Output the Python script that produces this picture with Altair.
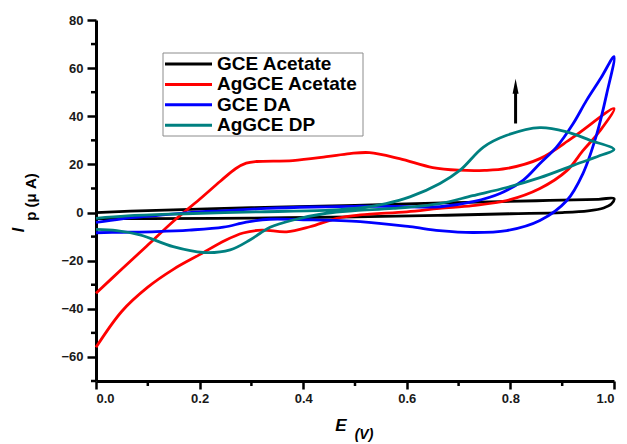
import altair as alt
import pandas as pd

names = ["GCE Acetate", "AgGCE Acetate", "GCE DA", "AgGCE DP"]
colors = ["#000000", "#ff0000", "#0000ff", "#008080"]

# GCE Acetate (black)
gce_ac_E = [0.0, 0.1, 0.3, 0.5, 0.67, 0.85, 0.97, 1.0, 0.995, 0.98, 0.95, 0.9, 0.8, 0.66, 0.5, 0.3, 0.1, 0.0]
gce_ac_I = [0.0, 0.8, 2.0, 3.0, 4.0, 4.9, 5.5, 5.8, 3.6, 1.9, 0.7, 0.0, -0.5, -1.2, -1.8, -2.3, -2.5, -2.5]

# AgGCE Acetate (red)
ag_ac_E = [0.0, 0.05, 0.1, 0.15, 0.2, 0.24, 0.27, 0.29, 0.31, 0.38, 0.445, 0.49, 0.528, 0.586, 0.65, 0.70,
           0.75, 0.793, 0.857, 0.92, 1.0,
           0.973, 0.94, 0.909, 0.857, 0.793, 0.727, 0.663, 0.60, 0.51, 0.465, 0.413, 0.368, 0.32, 0.284,
           0.25, 0.2, 0.15, 0.1, 0.05, 0.0]
ag_ac_I = [-33.5, -23.5, -13.5, -3.5, 5.5, 13.0, 18.3, 20.5, 21.2, 21.6, 23.2, 24.5, 24.9, 22.4, 18.7, 17.6,
           17.5, 18.3, 22.4, 31.1, 43.2,
           34.0, 25.7, 17.4, 10.0, 5.0, 2.9, 1.7, 0.3, -1.0, -2.4, -5.9, -8.0, -7.3, -8.5,
           -11.5, -17.5, -23.5, -31.0, -41.0, -56.0]

# GCE DA (blue)
gce_da_E = [0.0, 0.05, 0.12, 0.18, 0.25, 0.33, 0.42, 0.5, 0.58, 0.664, 0.728, 0.78, 0.825, 0.857, 0.889,
            0.921, 0.947, 0.975, 1.0,
            0.986, 0.967, 0.94, 0.909, 0.857, 0.793, 0.727, 0.663, 0.606, 0.51, 0.40, 0.336, 0.29, 0.246,
            0.18, 0.117, 0.05, 0.0]
gce_da_I = [-4.1, -2.6, -1.2, 0.0, 0.8, 1.7, 2.3, 2.6, 2.5, 2.4, 4.5, 7.9, 13.5, 20.4, 27.2,
            36.9, 46.6, 56.0, 64.8,
            49.4, 32.8, 16.2, 5.0, -3.3, -7.5, -8.3, -7.5, -5.9, -3.8, -3.0, -2.8, -4.0, -6.1,
            -7.3, -7.9, -8.2, -8.4]

# AgGCE DP (teal)
ag_dp_E = [0.0, 0.06, 0.157, 0.317, 0.45, 0.51, 0.56, 0.606, 0.664, 0.703, 0.748, 0.793, 0.857, 0.909,
           0.954, 1.0,
           0.973, 0.92, 0.857, 0.793, 0.727, 0.663, 0.574, 0.50, 0.445, 0.381, 0.336, 0.317, 0.297,
           0.259, 0.207, 0.149, 0.085, 0.04, 0.0]
ag_dp_I = [-2.4, -1.4, -0.6, 0.3, 1.0, 1.9, 3.7, 6.5, 12.1, 17.6, 27.2, 32.1, 35.3, 33.5,
           30.0, 26.2,
           23.7, 19.5, 14.5, 10.4, 7.0, 3.7, 1.7, 0.8, -0.3, -3.1, -6.1, -8.6, -11.4,
           -15.5, -16.6, -14.2, -9.3, -7.5, -7.0]

arrow_E = [0.81]
arrow_I = [37.0, 50.0, 52.5]  # tail, head base, head centre

x_major = [0.0, 0.2, 0.4, 0.6, 0.8, 1.0]
x_minor = [0.1, 0.3, 0.5, 0.7, 0.9]
y_major = [-60, -40, -20, 0, 20, 40, 60, 80]
y_minor = [-70, -50, -30, -10, 10, 30, 50, 70]

series_E = [gce_ac_E, ag_ac_E, gce_da_E, ag_dp_E]
series_I = [gce_ac_I, ag_ac_I, gce_da_I, ag_dp_I]
rows = []
for name, es, is_ in zip(names, series_E, series_I):
    for k, (e, i) in enumerate(zip(es, is_)):
        rows.append({"series": name, "E": e, "I": i, "idx": k})
df = pd.DataFrame(rows)

FONT = "Liberation Sans"

x_axis = alt.Axis(title=None, values=x_major, format=".1f", tickSize=8, labelPadding=3)
y_axis = alt.Axis(title=None, values=y_major, format="d", tickSize=9, labelPadding=4)

xs = alt.Scale(domain=[0, 1], nice=False)
ys = alt.Scale(domain=[-70, 80], nice=False)

lines = alt.Chart(df).mark_line(strokeWidth=2.8, interpolate="catmull-rom").encode(
    x=alt.X("E:Q", scale=xs, axis=x_axis),
    y=alt.Y("I:Q", scale=ys, axis=y_axis),
    color=alt.Color("series:N", scale=alt.Scale(domain=names, range=colors), legend=None),
    order="idx:Q",
)

minor_y = alt.Chart(pd.DataFrame({"v": y_minor})).mark_rule(color="black", strokeWidth=2.5).encode(
    y=alt.Y("v:Q", scale=ys, axis=y_axis), x=alt.value(-5), x2=alt.value(0))
minor_x = alt.Chart(pd.DataFrame({"v": x_minor})).mark_rule(color="black", strokeWidth=2.5).encode(
    x=alt.X("v:Q", scale=xs, axis=x_axis), y=alt.value(361), y2=alt.value(366))

arrow_df = pd.DataFrame({"E": arrow_E, "I": [arrow_I[0]], "I2": [arrow_I[1]], "Ih": [arrow_I[2]]})
shaft = alt.Chart(arrow_df).mark_rule(strokeWidth=3, color="black").encode(
    x=alt.X("E:Q", scale=xs, axis=x_axis), y=alt.Y("I:Q", scale=ys, axis=y_axis), y2="I2:Q")
head = alt.Chart(arrow_df).mark_point(
    shape="M0,-1L0.4,1L-0.4,1Z", filled=True, color="black", opacity=1, size=225
).encode(x=alt.X("E:Q", scale=xs, axis=x_axis), y=alt.Y("Ih:Q", scale=ys, axis=y_axis))

one = pd.DataFrame({"a": [0]})

box = alt.Chart(one).mark_rect(fill="white", stroke="#8c8c8c", strokeWidth=1).encode(
    x=alt.value(67), x2=alt.value(267), y=alt.value(33), y2=alt.value(116))

legend_layers = [box]
for i, (n, c) in enumerate(zip(names, colors)):
    yy = 44 + 20.4 * i
    legend_layers.append(alt.Chart(one).mark_rule(strokeWidth=3, color=c).encode(
        x=alt.value(69), x2=alt.value(116), y=alt.value(yy)))
    legend_layers.append(alt.Chart(one).mark_text(
        align="left", baseline="middle", font=FONT, fontWeight="bold", fontSize=19, color="black"
    ).encode(x=alt.value(121), y=alt.value(yy), text=alt.value(n)))

titles = [
    alt.Chart(one).mark_text(font=FONT, fontStyle="italic", fontWeight="bold", fontSize=16, angle=270,
                             align="center", baseline="middle", color="black").encode(
        x=alt.value(-77), y=alt.value(210), text=alt.value("I")),
    alt.Chart(one).mark_text(font=FONT, fontWeight="bold", fontSize=15, angle=270,
                             align="center", baseline="middle", color="black").encode(
        x=alt.value(-65), y=alt.value(177), text=alt.value("p (μ A)")),
    alt.Chart(one).mark_text(font=FONT, fontStyle="italic", fontWeight="bold", fontSize=17,
                             align="center", baseline="middle", color="black").encode(
        x=alt.value(245), y=alt.value(406), text=alt.value("E")),
    alt.Chart(one).mark_text(font=FONT, fontStyle="italic", fontWeight="bold", fontSize=14,
                             align="center", baseline="middle", color="black").encode(
        x=alt.value(268), y=alt.value(415), text=alt.value("(V)")),
]

chart = alt.layer(lines, minor_y, minor_x, shaft, head, *legend_layers, *titles).properties(
    width=518, height=361,
    autosize=alt.AutoSizeParams(type="none"),
    padding={"left": 96, "top": 20, "right": 13, "bottom": 63},
    background="white",
).configure_view(stroke=None).configure_axis(
    grid=False, domainColor="black", domainWidth=3, tickColor="black", tickWidth=2.5,
    labelFont=FONT, labelFontWeight="bold", labelFontSize=13, labelColor="#1a1a1a",
)

chart.save("out.html", embed_options={"renderer": "svg", "actions": False})
